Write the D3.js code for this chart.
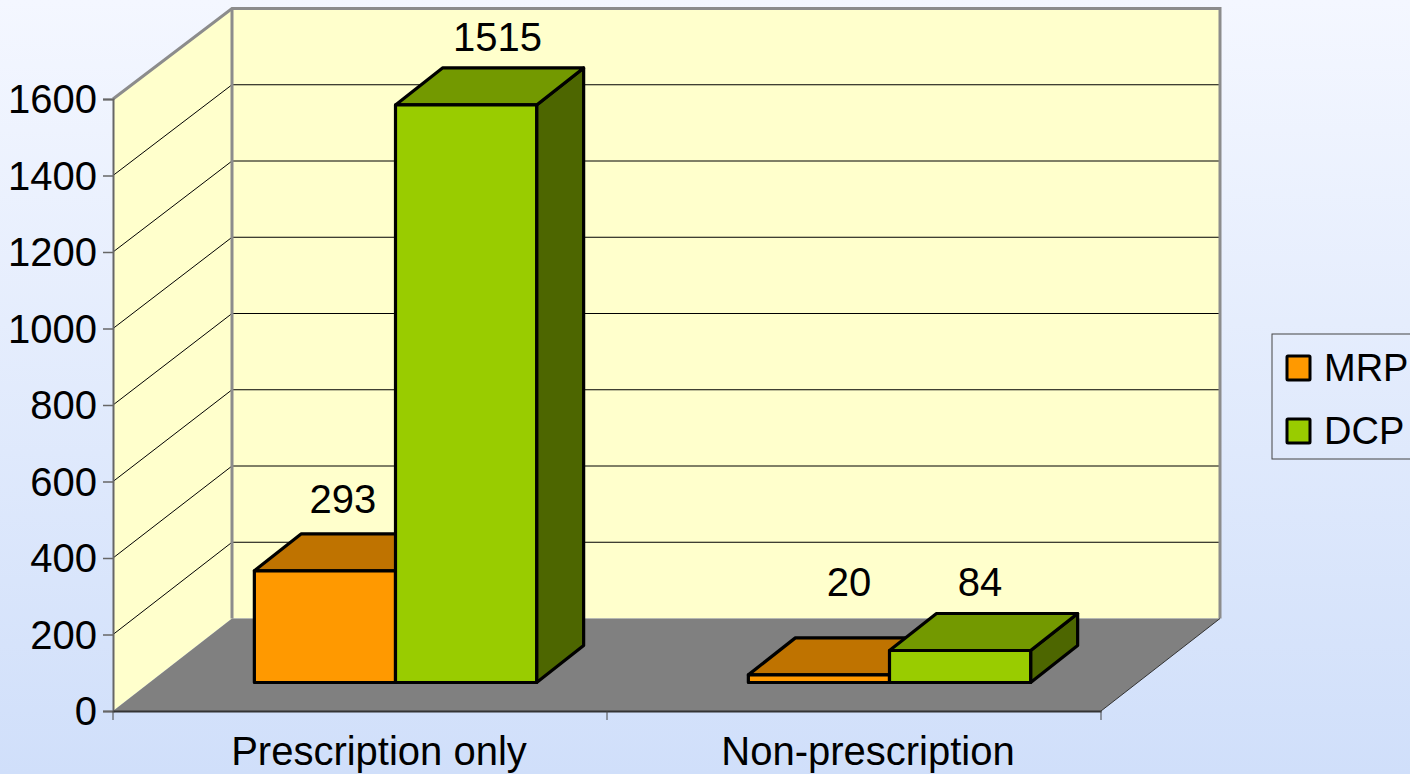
<!DOCTYPE html>
<html>
<head>
<meta charset="utf-8">
<script src="https://cdn.jsdelivr.net/npm/d3@7"></script>
<style>
  html, body { margin: 0; padding: 0; overflow: hidden; }
  text { font-family: "Liberation Sans", Arial, sans-serif; font-size: 40px; fill: #000; }
</style>
</head>
<body>
<div class="chart"></div>
<script>
const categories = ["Prescription only", "Non-prescription"];
const seriesNames = ["MRP", "DCP"];
const mrpValues = [293, 20];
const dcpValues = [1515, 84];
const yTicks = [0, 200, 400, 600, 800, 1000, 1200, 1400, 1600];

const width = 1410;
const height = 774;

const colors = {
    MRP: { front: "#ff9900", top: "#bf7300", side: "#804d00" },
    DCP: { front: "#99cc00", top: "#739900", side: "#4d6600" }
};

const floorDepthX = 119;
const barDepth = { x: 47, y: -37 };
const barShiftX = 35.5;

const x = d3.scaleBand().domain(categories).range([113, 1101]);
const xSeries = d3.scaleBand().domain(seriesNames).range([0, x.bandwidth()]).paddingOuter(0.75);

// front edge of the left wall, back wall, and the plane the bars stand in
const y = d3.scaleLinear().domain([0, 1600]).range([711, 99]);
const yBack = d3.scaleLinear().domain([0, 1600]).range([618.5, 8.5]);
const yBar = d3.scaleLinear().domain([0, 1600]).range([682.5, 72.5]);

const svg = d3.select(".chart")
    .append("svg")
    .attr("width", width)
    .attr("height", height)
    .style("display", "block");

const grad = svg.append("defs")
    .append("linearGradient")
    .attr("id", "bg")
    .attr("x1", 0).attr("y1", 0).attr("x2", 0).attr("y2", 1);
grad.append("stop").attr("offset", "0%").attr("stop-color", "#f4f7ff");
grad.append("stop").attr("offset", "100%").attr("stop-color", "#d0dffa");

svg.append("rect")
    .attr("width", width)
    .attr("height", height)
    .attr("fill", "url(#bg)");

const points = (arr) => arr.map((p) => p.join(",")).join(" ");

const xLeft = x.range()[0];
const xRight = x.range()[1];
const backLeft = xLeft + floorDepthX;
const backRight = xRight + floorDepthX;

// walls and floor
svg.append("polygon")
    .attr("points", points([
        [xLeft, y(1600)], [backLeft, yBack(1600)], [backLeft, yBack(0)], [xLeft, y(0)]
    ]))
    .attr("fill", "#ffffcc");

svg.append("rect")
    .attr("x", backLeft)
    .attr("y", yBack(1600))
    .attr("width", backRight - backLeft)
    .attr("height", yBack(0) - yBack(1600))
    .attr("fill", "#ffffcc");

svg.append("polygon")
    .attr("points", points([
        [xLeft, y(0)], [backLeft, yBack(0)], [backRight, yBack(0)], [xRight, y(0)]
    ]))
    .attr("fill", "#808080");

// gridlines
yTicks.filter((t) => t > 0 && t < 1600).forEach((t) => {
    svg.append("polyline")
        .attr("points", points([
            [xLeft, y(t)], [backLeft, yBack(t)], [backRight, yBack(t)]
        ]))
        .attr("fill", "none")
        .attr("stroke", "#000")
        .attr("stroke-width", 1);
});

// wall outline
svg.append("polyline")
    .attr("points", points([
        [xLeft, y(1600)], [backLeft, yBack(1600)], [backRight, yBack(1600)], [backRight, yBack(0)]
    ]))
    .attr("fill", "none")
    .attr("stroke", "#8c8c8c")
    .attr("stroke-width", 3);

svg.append("line")
    .attr("x1", backLeft).attr("x2", backLeft)
    .attr("y1", yBack(1600)).attr("y2", yBack(0))
    .attr("stroke", "#8c8c8c")
    .attr("stroke-width", 3);

svg.append("line")
    .attr("x1", xRight).attr("y1", y(0))
    .attr("x2", backRight).attr("y2", yBack(0))
    .attr("stroke", "#333")
    .attr("stroke-width", 1);

// axes
const yAxis = d3.axisLeft(y).tickValues(yTicks).tickSize(10).tickPadding(5).tickFormat(d3.format("d"));
const yG = svg.append("g").attr("transform", "translate(" + xLeft + ",0)").call(yAxis);
yG.selectAll("path").attr("stroke", "#666").attr("stroke-width", 2);
yG.selectAll("line").attr("stroke", "#666").attr("stroke-width", 1.5);
yG.selectAll("text")
    .attr("y", 1)
    .attr("x", -16)
    .style("font-size", "40px")
    .style("font-family", "'Liberation Sans'");

const xAxis = d3.axisBottom(x).tickSize(0).tickPadding(26);
const xG = svg.append("g").attr("transform", "translate(0," + y(0) + ")").call(xAxis);
xG.selectAll("path").attr("stroke", "#333").attr("stroke-width", 2);
xG.selectAll("text")
    .attr("dx", (d, i) => i === 0 ? 19 : 14)
    .style("font-size", "40px")
    .style("font-family", "'Liberation Sans'");

// ticks sit on the band edges, not the band centres
[0, 1, 2].forEach((i) => {
    const tx = xLeft + i * x.step();
    svg.append("line")
        .attr("x1", tx).attr("x2", tx)
        .attr("y1", y(0)).attr("y2", y(0) + 9)
        .attr("stroke", "#444")
        .attr("stroke-width", 1);
});

// bars, back to front
const barData = [];
categories.forEach((c, i) => {
    barData.push({ category: c, series: "MRP", value: mrpValues[i] });
    barData.push({ category: c, series: "DCP", value: dcpValues[i] });
});

const bars = svg.append("g")
    .attr("stroke", "#000")
    .attr("stroke-width", 3.2)
    .attr("stroke-linejoin", "round");

barData.forEach((d) => {
    const x0 = x(d.category) + xSeries(d.series) + barShiftX;
    const x1 = x0 + xSeries.bandwidth();
    const base = yBar(0);
    const top = yBar(d.value);
    const c = colors[d.series];

    bars.append("polygon")
        .attr("points", points([
            [x1, base], [x1 + barDepth.x, base + barDepth.y], [x1 + barDepth.x, top + barDepth.y], [x1, top]
        ]))
        .attr("fill", c.side);
    bars.append("polygon")
        .attr("points", points([
            [x0, top], [x0 + barDepth.x, top + barDepth.y], [x1 + barDepth.x, top + barDepth.y], [x1, top]
        ]))
        .attr("fill", c.top);
    bars.append("rect")
        .attr("x", x0)
        .attr("y", top)
        .attr("width", x1 - x0)
        .attr("height", base - top)
        .attr("fill", c.front);
});

// value labels, the short MRP one floats higher in the original
const labelNudge = { "20": { dx: 6.5, dy: -25 }, "293": { dx: -5.5, dy: -4 }, "1515": { dx: 8, dy: 0 }, "84": { dx: -3.5, dy: 0 } };

barData.forEach((d) => {
    const x0 = x(d.category) + xSeries(d.series) + barShiftX;
    const nudge = labelNudge[d.value];
    svg.append("text")
        .attr("x", x0 + xSeries.bandwidth() / 2 + barDepth.x / 2 + nudge.dx)
        .attr("y", yBar(d.value) + barDepth.y - 17 + nudge.dy)
        .attr("text-anchor", "middle")
        .text(d.value);
});

// legend
const legend = svg.append("g");
legend.append("rect")
    .attr("x", 1272).attr("y", 334)
    .attr("width", 140).attr("height", 125)
    .attr("fill", "none")
    .attr("stroke", "#444")
    .attr("stroke-width", 1);

const legendY = d3.scalePoint().domain(seriesNames).range([368, 431]);
seriesNames.forEach((s) => {
    legend.append("rect")
        .attr("x", 1287).attr("y", legendY(s) - 12)
        .attr("width", 23).attr("height", 24)
        .attr("rx", 1)
        .attr("fill", colors[s].front)
        .attr("stroke", "#000")
        .attr("stroke-width", 3);
    legend.append("text")
        .attr("x", 1324)
        .attr("y", legendY(s) + 13)
        .style("font-size", "38px")
        .text(s);
});
</script>
</body>
</html>
